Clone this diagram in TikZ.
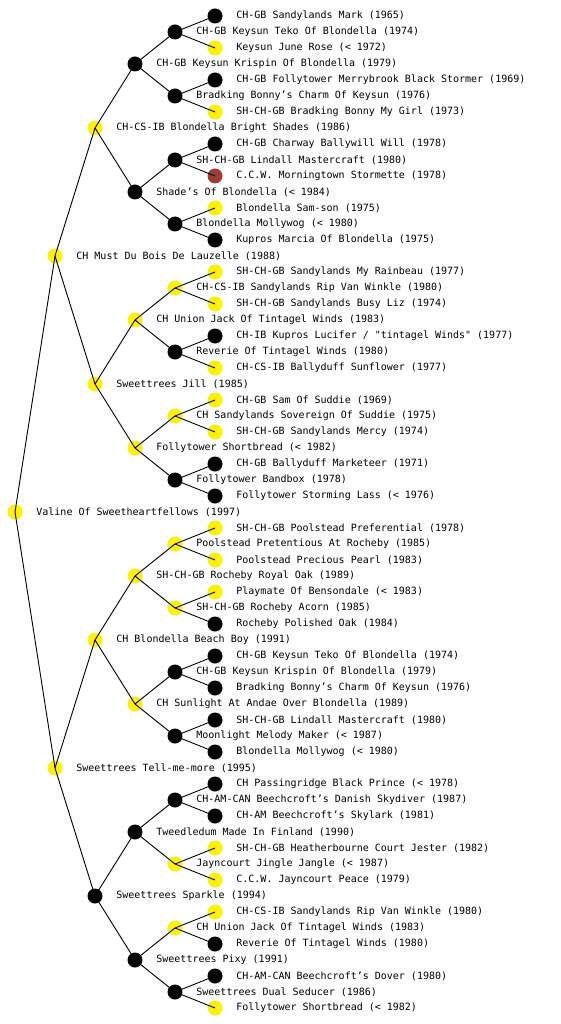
\documentclass[tikz,border=0pt]{standalone}
\usepackage{fontspec}
\usetikzlibrary{positioning}
\newfontfamily\pedmono{DejaVu Sans Mono}
\definecolor{rust}{RGB}{156,62,54}
% one dog: name, x, y, style, text
\newcommand{\pup}[5]{%
  \node[#4] (#1) at (#2,#3) {};
  \node[lbl, right=13.5pt of #1] (#1t) {#5};}

\begin{document}
\begin{tikzpicture}[x=1pt, y=-1pt,
    dog/.style={circle, minimum size=15pt, inner sep=0pt},
    yel/.style={dog, fill=yellow},
    blk/.style={dog, fill=black},
    red/.style={dog, fill=rust},
    lbl/.style={inner sep=0pt, font={\pedmono\fontsize{10pt}{12pt}\selectfont}},
    edge/.style={line width=0.9pt}]
    \useasboundingbox (0,0) rectangle (560,1024);

    % root and parents
    \pup{r}{15}{512}{yel}{Valine Of Sweetheartfellows (1997)}
    \pup{r0}{55}{256}{yel}{CH Must Du Bois De Lauzelle (1988)}
    \pup{r1}{55}{768}{yel}{Sweettrees Tell-me-more (1995)}

    % grandparents
    \pup{r00}{95}{128}{yel}{CH-CS-IB Blondella Bright Shades (1986)}
    \pup{r01}{95}{384}{yel}{Sweettrees Jill (1985)}
    \pup{r10}{95}{640}{yel}{CH Blondella Beach Boy (1991)}
    \pup{r11}{95}{896}{blk}{Sweettrees Sparkle (1994)}

    % third generation
    \pup{r000}{135}{64}{blk}{CH-GB Keysun Krispin Of Blondella (1979)}
    \pup{r001}{135}{192}{blk}{Shade’s Of Blondella (< 1984)}
    \pup{r010}{135}{320}{yel}{CH Union Jack Of Tintagel Winds (1983)}
    \pup{r011}{135}{448}{yel}{Follytower Shortbread (< 1982)}
    \pup{r100}{135}{576}{yel}{SH-CH-GB Rocheby Royal Oak (1989)}
    \pup{r101}{135}{704}{yel}{CH Sunlight At Andae Over Blondella (1989)}
    \pup{r110}{135}{832}{blk}{Tweedledum Made In Finland (1990)}
    \pup{r111}{135}{960}{blk}{Sweettrees Pixy (1991)}

    % fourth generation
    \pup{r0000}{175}{32}{blk}{CH-GB Keysun Teko Of Blondella (1974)}
    \pup{r0001}{175}{96}{blk}{Bradking Bonny’s Charm Of Keysun (1976)}
    \pup{r0010}{175}{160}{blk}{SH-CH-GB Lindall Mastercraft (1980)}
    \pup{r0011}{175}{224}{blk}{Blondella Mollywog (< 1980)}
    \pup{r0100}{175}{288}{yel}{CH-CS-IB Sandylands Rip Van Winkle (1980)}
    \pup{r0101}{175}{352}{blk}{Reverie Of Tintagel Winds (1980)}
    \pup{r0110}{175}{416}{yel}{CH Sandylands Sovereign Of Suddie (1975)}
    \pup{r0111}{175}{480}{blk}{Follytower Bandbox (1978)}
    \pup{r1000}{175}{544}{yel}{Poolstead Pretentious At Rocheby (1985)}
    \pup{r1001}{175}{608}{yel}{SH-CH-GB Rocheby Acorn (1985)}
    \pup{r1010}{175}{672}{blk}{CH-GB Keysun Krispin Of Blondella (1979)}
    \pup{r1011}{175}{736}{blk}{Moonlight Melody Maker (< 1987)}
    \pup{r1100}{175}{800}{blk}{CH-AM-CAN Beechcroft’s Danish Skydiver (1987)}
    \pup{r1101}{175}{864}{yel}{Jayncourt Jingle Jangle (< 1987)}
    \pup{r1110}{175}{928}{yel}{CH Union Jack Of Tintagel Winds (1983)}
    \pup{r1111}{175}{992}{blk}{Sweettrees Dual Seducer (1986)}

    % fifth generation
    \pup{r00000}{215}{16}{blk}{CH-GB Sandylands Mark (1965)}
    \pup{r00001}{215}{48}{yel}{Keysun June Rose (< 1972)}
    \pup{r00010}{215}{80}{blk}{CH-GB Follytower Merrybrook Black Stormer (1969)}
    \pup{r00011}{215}{112}{yel}{SH-CH-GB Bradking Bonny My Girl (1973)}
    \pup{r00100}{215}{144}{blk}{CH-GB Charway Ballywill Will (1978)}
    \pup{r00101}{215}{176}{red}{C.C.W. Morningtown Stormette (1978)}
    \pup{r00110}{215}{208}{yel}{Blondella Sam-son (1975)}
    \pup{r00111}{215}{240}{blk}{Kupros Marcia Of Blondella (1975)}
    \pup{r01000}{215}{272}{yel}{SH-CH-GB Sandylands My Rainbeau (1977)}
    \pup{r01001}{215}{304}{yel}{SH-CH-GB Sandylands Busy Liz (1974)}
    \pup{r01010}{215}{336}{blk}{CH-IB Kupros Lucifer / "tintagel Winds" (1977)}
    \pup{r01011}{215}{368}{yel}{CH-CS-IB Ballyduff Sunflower (1977)}
    \pup{r01100}{215}{400}{yel}{CH-GB Sam Of Suddie (1969)}
    \pup{r01101}{215}{432}{yel}{SH-CH-GB Sandylands Mercy (1974)}
    \pup{r01110}{215}{464}{blk}{CH-GB Ballyduff Marketeer (1971)}
    \pup{r01111}{215}{496}{blk}{Follytower Storming Lass (< 1976)}
    \pup{r10000}{215}{528}{yel}{SH-CH-GB Poolstead Preferential (1978)}
    \pup{r10001}{215}{560}{yel}{Poolstead Precious Pearl (1983)}
    \pup{r10010}{215}{592}{yel}{Playmate Of Bensondale (< 1983)}
    \pup{r10011}{215}{624}{blk}{Rocheby Polished Oak (1984)}
    \pup{r10100}{215}{656}{blk}{CH-GB Keysun Teko Of Blondella (1974)}
    \pup{r10101}{215}{688}{blk}{Bradking Bonny’s Charm Of Keysun (1976)}
    \pup{r10110}{215}{720}{blk}{SH-CH-GB Lindall Mastercraft (1980)}
    \pup{r10111}{215}{752}{blk}{Blondella Mollywog (< 1980)}
    \pup{r11000}{215}{784}{blk}{CH Passingridge Black Prince (< 1978)}
    \pup{r11001}{215}{816}{blk}{CH-AM Beechcroft’s Skylark (1981)}
    \pup{r11010}{215}{848}{yel}{SH-CH-GB Heatherbourne Court Jester (1982)}
    \pup{r11011}{215}{880}{yel}{C.C.W. Jayncourt Peace (1979)}
    \pup{r11100}{215}{912}{yel}{CH-CS-IB Sandylands Rip Van Winkle (1980)}
    \pup{r11101}{215}{944}{blk}{Reverie Of Tintagel Winds (1980)}
    \pup{r11110}{215}{976}{blk}{CH-AM-CAN Beechcroft’s Dover (1980)}
    \pup{r11111}{215}{1008}{yel}{Follytower Shortbread (< 1982)}

    % lines from each dog to sire and dam
    \foreach \p in {r,r0,r1,r00,r01,r10,r11,
        r000,r001,r010,r011,r100,r101,r110,r111,
        r0000,r0001,r0010,r0011,r0100,r0101,r0110,r0111,
        r1000,r1001,r1010,r1011,r1100,r1101,r1110,r1111} {
        \draw[edge] (\p.center) -- (\p0.center);
        \draw[edge] (\p.center) -- (\p1.center);
    }
\end{tikzpicture}
\end{document}
